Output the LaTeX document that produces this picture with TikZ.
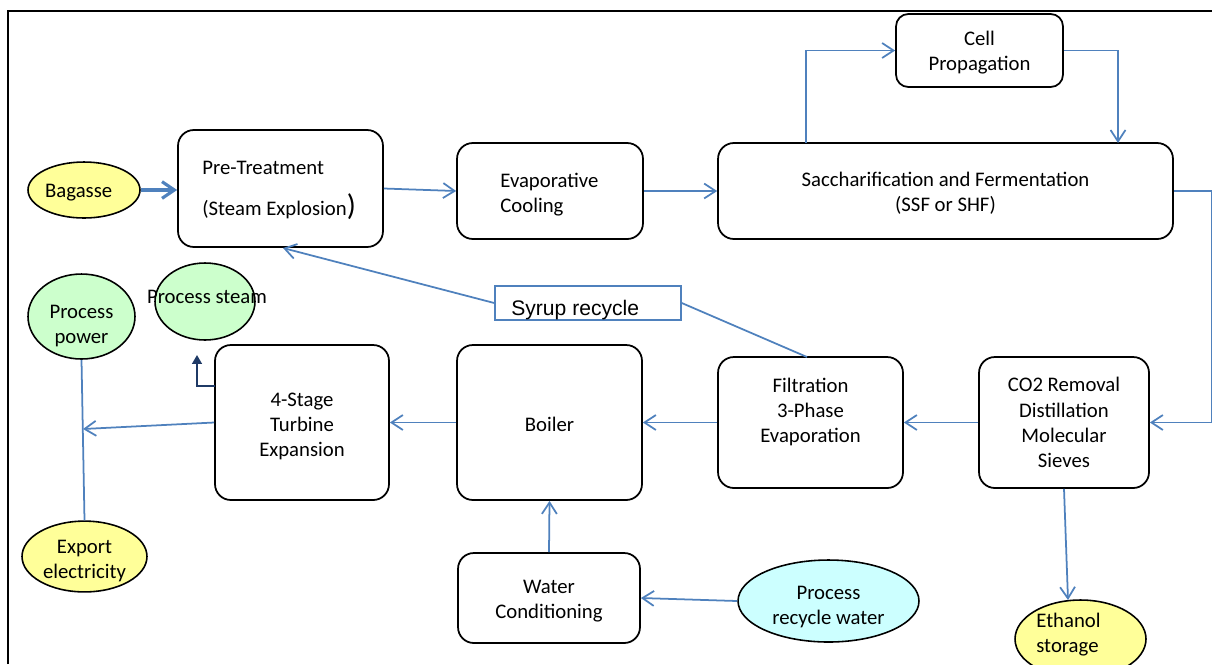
\documentclass[tikz,border=0pt]{standalone}
\usepackage{fontspec}
\setmainfont{Carlito}
\newfontfamily\arialf{Liberation Sans}
\usetikzlibrary{arrows.meta,shapes.geometric}
\definecolor{lblue}{HTML}{4F81BD}
\definecolor{dblue}{HTML}{1F3A66}
\definecolor{yel}{HTML}{FFFF99}
\definecolor{grn}{HTML}{CCFFCC}
\definecolor{cyn}{HTML}{CCFFFF}
\newcommand\txt{\fontsize{11.8}{14.3}\selectfont}
\tikzset{
 box/.style={draw=black, line width=1pt, rounded corners=9pt, fill=white, align=center, font=\txt, inner sep=0pt},
 oval/.style={ellipse, draw=black, line width=0.9pt, inner sep=0pt, align=center, font=\txt},
 lbl/.style={font=\txt, inner sep=0pt, align=left},
 tdown/.style={execute at begin node={\rule{0pt}{#1}}},
 flow/.style={draw=lblue, line width=1pt, -{Straight Barb[length=6.5pt,width=8.5pt]}},
 link/.style={draw=lblue, line width=1pt},
}
\begin{document}
\begin{tikzpicture}[x=0.02cm,y=-0.02cm]
\useasboundingbox (0,0) rectangle (1212,664);
% frame
\draw[line width=1.4pt] (8,664) -- (8,11) -- (1212,11);

% process boxes
\node[box, minimum width=4.1cm, minimum height=2.34cm] (pre) at (280.5,188.5) {};
\node[lbl, anchor=west] (pret1) at (202,168) {Pre-Treatment};
\node[lbl, anchor=west] (pret2) at (202,206.5) {(Steam Explosion{\fontsize{17}{17}\selectfont)}};
\node[box, minimum width=3.72cm, minimum height=1.92cm] (evap) at (550,191) {};
\node[lbl, anchor=west] (evapt) at (500,195) {Evaporative\\Cooling};
\node[box, tdown=25.5pt, minimum width=9.1cm, minimum height=1.92cm] (sac) at (945.5,191) {Saccharification and Fermentation\\(SSF or SHF)};
\node[box, tdown=24.4pt, rounded corners=7pt, minimum width=3.34cm, minimum height=1.46cm] (cell) at (979.5,50.5) {Cell\\Propagation};
\node[box, minimum width=3.4cm, minimum height=2.62cm] (co2) at (1064,422.5) {CO2 Removal\\Distillation\\Molecular\\Sieves};
\node[box, minimum width=3.7cm, minimum height=2.62cm] (filt) at (810.5,422.5) {Filtration\\3-Phase\\Evaporation\\\mbox{}};
\node[box, tdown=10.5pt, minimum width=3.7cm, minimum height=3.1cm] (boil) at (549.5,422.5) {Boiler};
\node[box, tdown=40.9pt, minimum width=3.48cm, minimum height=3.1cm] (turb) at (302,422.5) {4-Stage\\Turbine\\Expansion};
\node[box, tdown=25.5pt, minimum width=3.64cm, minimum height=1.8cm] (water) at (549,598) {Water\\Conditioning};

% ovals
\node[oval, tdown=11pt, fill=yel, minimum width=2.24cm, minimum height=1.12cm] (bag) at (84,190) {Bagasse\hspace{6pt}};
\node[oval, tdown=32.3pt, fill=grn, minimum width=2.14cm, minimum height=1.54cm] (power) at (81.5,316.5) {Process\\power};
\node[oval, fill=grn, minimum width=2.0cm, minimum height=1.54cm] (steam) at (205,301.5) {};
\node[lbl, align=center] (steamt) at (207,297) {Process steam};
\node[oval, tdown=26.6pt, fill=yel, minimum width=2.5cm, minimum height=1.34cm] (export) at (84.5,556.5) {Export\\electricity};
\node[oval, tdown=28.9pt, fill=cyn, minimum width=3.62cm, minimum height=1.64cm] (rec) at (828.5,601) {Process\\recycle water};
\node[oval, fill=yel, minimum width=2.62cm, minimum height=1.56cm] (eth) at (1080.5,639) {};
\node[lbl, anchor=west] (etht) at (1036,634.5) {Ethanol\\storage};

% syrup recycle label box
\node[draw=lblue, line width=0.9pt, fill=white, minimum width=3.72cm, minimum height=0.68cm, inner sep=0pt] (syrup) at (588,303) {};
\node[font=\arialf\fontsize{12}{14}\selectfont, anchor=west, inner sep=0pt] (syrupt) at (511,310) {Syrup recycle};

% coordinates
\coordinate (cellup) at (806,143);
\coordinate (celldn) at (1118,143);
\coordinate (junc) at (83,429);
\coordinate (steamin) at (197,355);
\coordinate (turbst) at (215,386);
\coordinate (ethin) at (1068,600);
\coordinate (filtst) at (807,357);
\coordinate (preend) at (283,248);

% connectors
\draw[flow, line width=1.8pt, -{Straight Barb[length=7pt,width=9.5pt]}] (bag.east) -- (bag.east -| pre.west);
\draw[flow] (pre.east) -- (evap.west);
\draw[flow] (evap.east) -- (sac.west);
\draw[flow] (cellup) |- (cell.west);
\draw[flow] (cell.east) -| (celldn);
\draw[flow] (sac.east) -- ++(38,0) |- (co2.east);
\draw[flow] (co2.west) -- (filt.east);
\draw[flow] (filt.west) -- (boil.east);
\draw[flow] (boil.west) -- (turb.east);
\draw[flow] (turb.west) -- (junc);
\draw[link] (power.south) -- (export.north);
\draw[draw=dblue, line width=1pt, -{Triangle[length=5pt,width=5.5pt]}] (turbst) -| (steamin);
\draw[flow] (water.north) -- (boil.south);
\draw[flow] (rec.west) -- (water.east);
\draw[flow] (co2.south) -- (ethin);
\draw[link] (filtst) -- (syrup.east);
\draw[flow] (syrup.west) -- (preend);
\end{tikzpicture}
\end{document}
